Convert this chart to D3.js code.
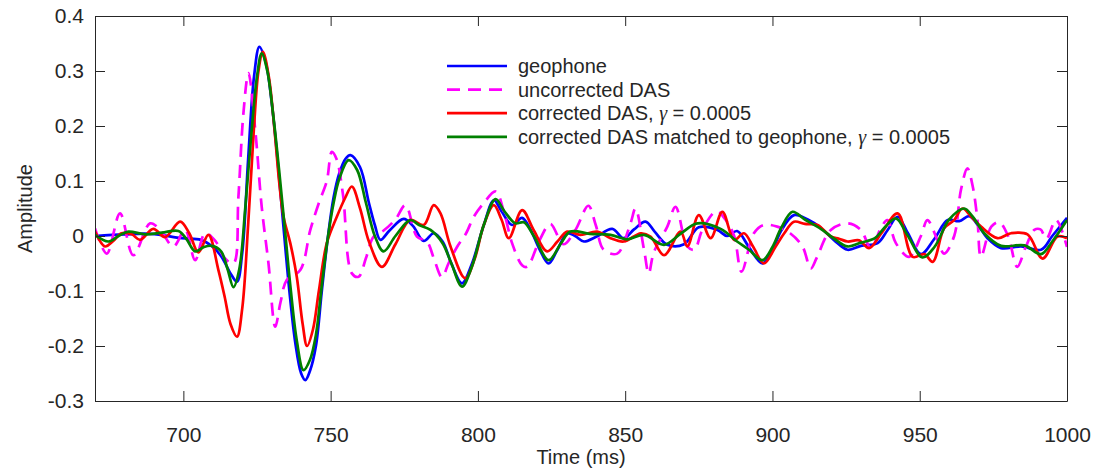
<!DOCTYPE html>
<html>
<head>
<meta charset="utf-8">
<script src="https://cdnjs.cloudflare.com/ajax/libs/d3/7.8.5/d3.min.js"></script>
<style>
  body { margin: 0; background: #fff; }
  svg { font-family: "Liberation Sans", Arial, sans-serif; }
</style>
</head>
<body>
<script>
// ticks
const timeTicks = [700, 750, 800, 850, 900, 950, 1000];
const ampTicks = [-0.3, -0.2, -0.1, 0, 0.1, 0.2, 0.3, 0.4];
const ampTickLabels = ["-0.3", "-0.2", "-0.1", "0", "0.1", "0.2", "0.3", "0.4"];

// legend names
const seriesNames = ["geophone", "uncorrected DAS", "corrected DAS, ", "corrected DAS matched to geophone, "];

// geophone (blue)
const geoT = [670, 680, 689, 699.5, 706, 710, 713, 716, 718.2, 720, 722, 724, 725.8, 728, 730, 732, 734, 736, 738, 740, 741.4, 743, 745, 747, 749, 751, 753, 755, 756.7, 760, 763, 765, 766.9, 770, 774.8, 778, 781.6, 785, 788, 791, 794.6, 798, 802, 805.4, 808, 811.6, 815, 818, 821, 824, 827, 830.3, 833, 836, 840, 845.6, 849.5, 853, 856.9, 860, 864.3, 870, 875, 881.3, 884.6, 888, 892, 896.6, 900, 903, 907.3, 912, 916.4, 921, 925.5, 930, 935.7, 939, 942.5, 946, 950.4, 955, 959.5, 963.4, 966.8, 970, 973, 977.6, 984.4, 991.2, 995, 1000];
const geoV = [0.0, 0.003, 0.004, -0.004, -0.007, -0.02, -0.038, -0.068, -0.083, -0.03, 0.14, 0.29, 0.344, 0.315, 0.242, 0.137, 0.016, -0.1, -0.194, -0.25, -0.262, -0.245, -0.2, -0.1, -0.005, 0.07, 0.115, 0.14, 0.147, 0.125, 0.06, 0.02, -0.007, 0.01, 0.031, 0.018, -0.009, 0.005, -0.01, -0.05, -0.086, -0.05, 0.02, 0.065, 0.045, 0.02, 0.033, 0.01, -0.025, -0.05, -0.025, 0.005, 0.0, -0.01, -0.002, 0.013, -0.004, 0.012, 0.026, 0.008, -0.016, -0.015, 0.016, 0.011, 0.0, 0.009, -0.02, -0.05, -0.025, 0.01, 0.038, 0.03, 0.015, -0.008, -0.025, -0.018, -0.013, 0.01, 0.035, 0.005, -0.033, -0.005, 0.029, 0.027, 0.036, 0.018, -0.004, -0.022, -0.019, -0.025, 0.0, 0.033];

// uncorrected DAS (magenta, dashed)
const rawT = [670, 674, 678.5, 683, 688.7, 692, 696.6, 700.6, 704, 707.4, 711, 714, 717, 718.7, 720.4, 722.1, 724.4, 726.6, 728.9, 731.2, 733, 735.1, 739.7, 743.1, 746, 748.7, 750.4, 752, 754.2, 757.2, 759.5, 762, 764.6, 768, 772, 775.4, 779.3, 782.7, 785, 787.8, 790, 793, 796, 798.6, 802, 806, 809, 811.6, 815, 816.7, 821, 824.6, 829, 833, 837.5, 840, 842.7, 847.3, 851.8, 853.5, 856.4, 858, 859.7, 864.3, 867.1, 871.1, 873.5, 876.2, 881, 884, 887, 889.5, 893.7, 897, 901.6, 906, 910.2, 913, 915, 919.8, 925.5, 930, 933.4, 936.8, 939, 941.9, 946.4, 950.4, 952.6, 956, 958.3, 961.7, 964, 966.2, 968, 969.6, 970.8, 974.3, 977, 980, 983.1, 986, 988.9, 991, 993, 996.3, 1000];
const rawV = [0.014, -0.032, 0.041, -0.035, 0.023, 0.012, -0.019, 0.011, -0.044, 0.005, -0.01, -0.04, -0.05, 0.072, 0.224, 0.296, 0.193, 0.053, -0.05, -0.165, -0.12, -0.08, -0.062, 0.011, 0.06, 0.1, 0.153, 0.14, 0.075, -0.068, -0.074, -0.04, -0.001, 0.01, 0.03, 0.056, -0.001, -0.01, -0.04, -0.075, -0.05, -0.019, 0.005, 0.035, 0.06, 0.081, 0.04, -0.013, -0.053, -0.056, -0.007, 0.022, -0.015, 0.01, 0.055, 0.02, -0.025, -0.032, 0.023, 0.05, -0.025, -0.068, -0.03, 0.017, 0.053, -0.019, -0.025, 0.011, 0.045, 0.03, 0.0, -0.065, 0.005, 0.02, 0.017, 0.005, -0.019, -0.059, -0.04, 0.011, 0.023, 0.011, -0.022, 0.014, 0.029, -0.013, -0.038, 0.0, 0.029, -0.007, -0.032, 0.0, 0.084, 0.123, 0.09, 0.029, -0.038, 0.017, 0.025, 0.0, -0.056, -0.02, 0.011, 0.012, -0.005, 0.029, -0.02];

// corrected DAS (red)
const corT = [670, 673.4, 676, 679, 682.5, 685.3, 689.8, 693.8, 698.9, 702, 705.1, 708.5, 711.9, 714, 716, 718.2, 720, 722, 724, 725.5, 727, 729, 731, 732.5, 734, 736.3, 738.5, 740.5, 742, 744, 746, 748.7, 752.1, 755, 757.2, 760, 763, 767.4, 772, 777, 781.6, 785, 787.3, 790.7, 795.7, 799, 802, 805.4, 808, 810.5, 815, 819, 823.5, 827, 830.3, 834.8, 840.5, 845, 849.5, 855.3, 858.6, 863.2, 868.8, 871.1, 875, 879, 883, 887, 890.3, 893.5, 897.1, 901, 904, 907.3, 911, 915.3, 919.8, 922.6, 925.5, 929.4, 932.8, 937, 942.5, 947.6, 951.6, 954.4, 958.3, 961.7, 964.5, 967.5, 970.8, 976.4, 981, 986.6, 991.7, 996.8, 1000];
const corV = [0.008, -0.019, -0.01, 0.005, 0.003, -0.007, 0.013, -0.002, 0.026, 0.005, -0.03, 0.002, -0.062, -0.11, -0.16, -0.183, -0.131, 0.021, 0.2, 0.3, 0.335, 0.29, 0.19, 0.1, 0.035, -0.013, -0.074, -0.16, -0.2, -0.17, -0.1, -0.013, 0.035, 0.07, 0.09, 0.05, -0.01, -0.056, -0.015, 0.029, 0.02, 0.056, 0.041, -0.019, -0.077, -0.04, 0.02, 0.056, 0.03, -0.004, 0.047, 0.01, -0.028, -0.01, 0.008, 0.002, 0.008, -0.004, -0.01, 0.005, -0.001, -0.035, 0.008, -0.019, 0.038, -0.004, 0.044, -0.007, 0.005, -0.02, -0.05, -0.02, 0.005, 0.026, 0.022, 0.02, -0.001, -0.005, -0.01, -0.008, -0.022, 0.005, 0.041, -0.038, -0.033, -0.047, 0.014, 0.029, 0.05, 0.035, 0.017, -0.004, 0.005, 0.003, -0.041, -0.001, -0.004];

// corrected DAS matched to geophone (green)
const matT = [670, 674.5, 678, 681.3, 687, 692.7, 698.3, 701, 704, 707, 709.7, 712.8, 715, 717, 719, 721, 723, 725, 726.6, 728.5, 730.5, 732.5, 734.5, 736.5, 738.5, 740.8, 743, 745, 747, 749, 751, 753, 756.1, 759, 762, 765, 768, 772, 777, 780, 783.9, 788, 791, 794.6, 798, 802, 806, 809, 812.7, 815.6, 819, 824, 828, 831.4, 838, 845, 850.7, 856.4, 863.2, 869, 874.5, 882.4, 888, 892, 896.6, 900, 903, 906.8, 911, 916.4, 921, 925.5, 930, 934.8, 938, 941.9, 946, 950.9, 955, 960, 965.1, 968, 971.9, 977.6, 985.5, 991.2, 995, 1000];
const matV = [0.002, -0.01, 0.0, 0.008, 0.003, 0.006, 0.009, -0.005, -0.028, -0.02, -0.018, -0.028, -0.06, -0.093, -0.06, 0.05, 0.18, 0.29, 0.332, 0.3, 0.22, 0.12, 0.01, -0.1, -0.19, -0.244, -0.225, -0.18, -0.09, -0.005, 0.06, 0.105, 0.138, 0.12, 0.06, 0.0, -0.028, 0.0, 0.029, 0.02, 0.011, -0.013, -0.05, -0.092, -0.055, 0.02, 0.067, 0.045, 0.023, 0.025, 0.0, -0.044, -0.015, 0.008, 0.004, 0.002, -0.006, 0.002, -0.016, 0.005, 0.023, 0.013, -0.01, -0.025, -0.044, -0.02, 0.015, 0.044, 0.03, 0.013, -0.005, -0.019, -0.012, -0.004, 0.015, 0.032, 0.0, -0.039, -0.02, 0.03, 0.05, 0.035, 0.005, -0.018, -0.017, -0.033, -0.01, 0.029];

const width = 1100;
const height = 475;
const mLeft = 95, mRight = 1067, mTop = 16, mBottom = 401;
const axisColor = "#262626";

const svg = d3.select("body").append("svg")
    .attr("width", width)
    .attr("height", height);

const x = d3.scaleLinear().domain([670, 1000]).range([mLeft, mRight]);
const y = d3.scaleLinear().domain([-0.3, 0.4]).range([mBottom, mTop]);

// clip to the axes box
svg.append("clipPath").attr("id", "clip")
    .append("rect")
    .attr("x", mLeft).attr("y", mTop)
    .attr("width", mRight - mLeft).attr("height", mBottom - mTop);

const series = [
    {t: geoT, v: geoV, color: "#0000ff", dash: null},
    {t: rawT, v: rawV, color: "#ff00ff", dash: "13,8"},
    {t: corT, v: corV, color: "#ff0000", dash: null},
    {t: matT, v: matV, color: "#008000", dash: null}
];

const line = d3.line()
    .x(d => x(d[0]))
    .y(d => y(d[1]))
    .curve(d3.curveCatmullRom.alpha(0.5));

const plot = svg.append("g").attr("clip-path", "url(#clip)");
series.forEach(s => {
    plot.append("path")
        .datum(s.t.map((t, i) => [t, s.v[i]]))
        .attr("fill", "none")
        .attr("stroke", s.color)
        .attr("stroke-width", 2.7)
        .attr("stroke-linejoin", "round")
        .attr("stroke-dasharray", s.dash)
        .attr("d", line);
});

// axes, ticks inside (MATLAB style box)
const tickLen = 10;
const xBottom = d3.axisBottom(x).tickValues(timeTicks).tickSizeInner(-tickLen).tickSizeOuter(0).tickPadding(26)
    .tickFormat(d => String(d));
const xTop = d3.axisTop(x).tickValues(timeTicks).tickSizeInner(-tickLen).tickSizeOuter(0).tickFormat("");
const yLeft = d3.axisLeft(y).tickValues(ampTicks).tickSizeInner(-tickLen).tickSizeOuter(0).tickPadding(11)
    .tickFormat((d, i) => ampTickLabels[i]);
const yRight = d3.axisRight(y).tickValues(ampTicks).tickSizeInner(-tickLen).tickSizeOuter(0).tickFormat("");

function styleAxis(g) {
    g.selectAll("path").attr("stroke", axisColor);
    g.selectAll("line").attr("stroke", axisColor);
    g.selectAll("text").attr("fill", axisColor).style("font-size", "21px");
}

svg.append("g").attr("transform", `translate(0,${mBottom})`).call(xBottom).call(styleAxis);
svg.append("g").attr("transform", `translate(0,${mTop})`).call(xTop).call(styleAxis);
svg.append("g").attr("transform", `translate(${mLeft},0)`).call(yLeft).call(styleAxis);
svg.append("g").attr("transform", `translate(${mRight},0)`).call(yRight).call(styleAxis);

// axis labels
svg.append("text")
    .attr("x", (mLeft + mRight) / 2)
    .attr("y", 464)
    .attr("text-anchor", "middle")
    .attr("fill", axisColor)
    .style("font-size", "20px")
    .text("Time (ms)");

svg.append("text")
    .attr("transform", `translate(32,${(mTop + mBottom) / 2}) rotate(-90)`)
    .attr("text-anchor", "middle")
    .attr("fill", axisColor)
    .style("font-size", "20px")
    .text("Amplitude");

// legend
const legend = svg.append("g").attr("transform", "translate(447,66)");
const rows = legend.selectAll("g").data(series).enter().append("g")
    .attr("transform", (d, i) => `translate(0,${i * 23.6})`);
rows.append("line")
    .attr("x1", 0).attr("x2", 60)
    .attr("stroke", d => d.color)
    .attr("stroke-width", 2.7)
    .attr("stroke-dasharray", d => d.dash);
const labels = rows.append("text")
    .attr("x", 71)
    .attr("dy", "0.35em")
    .attr("fill", axisColor)
    .style("font-size", "20px")
    .text((d, i) => seriesNames[i]);
labels.filter((d, i) => i >= 2).each(function () {
    const t = d3.select(this);
    t.append("tspan").style("font-family", "'Liberation Serif', serif").style("font-style", "italic").text("γ");
    t.append("tspan").text(" = 0.0005");
});
</script>
</body>
</html>
